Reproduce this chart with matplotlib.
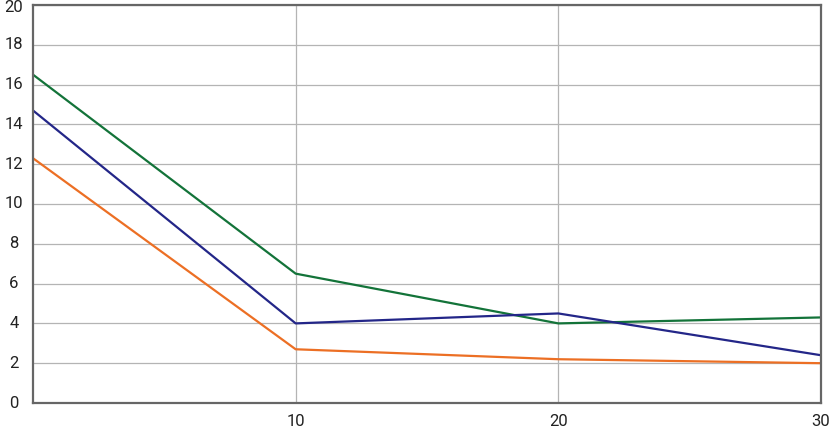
import matplotlib.pyplot as plt
import matplotlib.transforms as mtransforms

plt.rcParams['font.family'] = ['Roboto', 'DejaVu Sans']

x = [0, 10, 20, 30]
green = [16.5, 6.5, 4.0, 4.3]
blue = [14.7, 4.0, 4.5, 2.4]
orange = [12.3, 2.7, 2.2, 2.0]
xticks = [10, 20, 30]
yticks = list(range(0, 21, 2))

fig = plt.figure(figsize=(8.35, 4.36), dpi=100)
ax = fig.add_axes([33 / 835, 33 / 436, (821 - 33) / 835, (403 - 5) / 436])

ax.plot(x, green, color="#137339", lw=1.6)
ax.plot(x, blue, color="#232688", lw=1.6)
ax.plot(x, orange, color="#ec6f24", lw=1.6)

ax.set_xlim(0, 30)
ax.set_ylim(0, 20)
ax.set_xticks(xticks)
ax.set_yticks(yticks)
ax.set_yticklabels([])
ax.grid(True, color="#b4b4b4", lw=0.9)
ax.set_axisbelow(True)
for side in ["left", "bottom", "right", "top"]:
    ax.spines[side].set_color("#666666")
    ax.spines[side].set_linewidth(1.6)
ax.tick_params(length=0, labelsize=12, colors="#222222")
ax.tick_params(axis="x", pad=8)

# y labels centred in the left margin, top one nudged down so it fits
trans = mtransforms.blended_transform_factory(fig.transFigure, ax.transData)
nudge = mtransforms.ScaledTranslation(0, -3 / 100, fig.dpi_scale_trans)
for v in yticks:
    t = trans + nudge if v == yticks[-1] else trans
    ax.text(14 / 835, v, str(v), transform=t, ha="center", va="center",
            fontsize=12, color="#222222", clip_on=False)

fig.savefig("out.png", dpi=100)
